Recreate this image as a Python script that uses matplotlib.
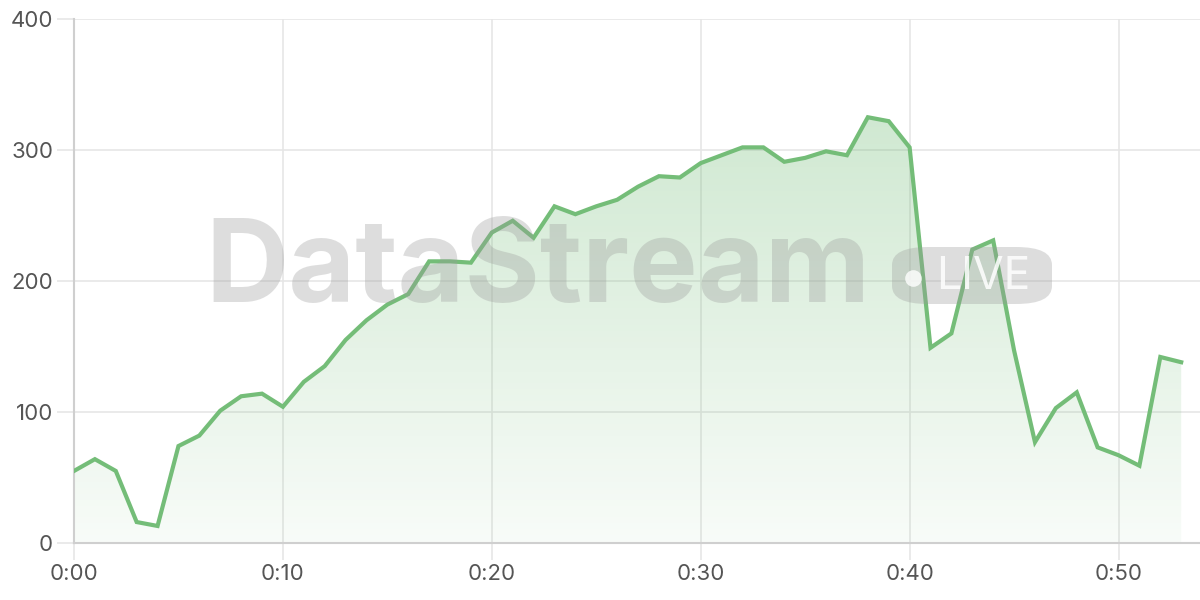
import numpy as np
import matplotlib
matplotlib.use('Agg')
import matplotlib.pyplot as plt
from matplotlib.patches import FancyBboxPatch
from matplotlib.lines import Line2D

plt.rcParams['font.family'] = ['Inter', 'DejaVu Sans']

# minutes since start, and the value at each minute
minutes = list(range(54))
values = [55, 64, 55, 16, 13, 74, 82, 101, 112, 114,
          104, 123, 135, 155, 170, 182, 190, 215, 215, 214,
          237, 246, 233, 257, 251, 257, 262, 272, 280, 279,
          290, 296, 302, 302, 291, 294, 299, 296, 325, 322,
          302, 149, 160, 224, 231, 147, 77, 103, 115, 73,
          67, 59, 142, 138]
tick_minutes = [0, 10, 20, 30, 40, 50]
tick_labels = ['0:00', '0:10', '0:20', '0:30', '0:40', '0:50']
y_ticks = [0, 100, 200, 300, 400]

line_color = '#74bd78'
grid_color = '#e6e6e6'

fig = plt.figure(figsize=(12, 6), dpi=100)
ax = fig.add_axes([74/1200, 57/600, 1 - 74/1200, 524/600])

ax.set_xlim(0, 53.9)
ax.set_ylim(0, 400)

# gradient fill under the line
poly = ax.fill_between(minutes, values, 0, color='none')
grad = np.linspace(0, 1, 256).reshape(-1, 1)
cmap = matplotlib.colors.LinearSegmentedColormap.from_list(
    'g', [(0.45, 0.74, 0.47, 0.05), (0.45, 0.74, 0.47, 0.34)])
img = ax.imshow(grad, extent=[0, 53, 0, 330], origin='lower', aspect='auto',
                cmap=cmap, zorder=1)
img.set_clip_path(poly.get_paths()[0], transform=ax.transData)

ax.plot(minutes, values, color=line_color, linewidth=3, zorder=3,
        solid_joinstyle='miter')

ax.set_xticks(tick_minutes)
ax.set_xticklabels(tick_labels)
ax.set_yticks(y_ticks)
ax.grid(True, color=grid_color, linewidth=1.2, zorder=0)
ax.set_axisbelow(True)
for s in ['top', 'right']:
    ax.spines[s].set_visible(False)
for s in ['left', 'bottom']:
    ax.spines[s].set_color('#cfcfcf')
    ax.spines[s].set_linewidth(1.5)
ax.tick_params(axis='both', colors=grid_color, labelcolor='#555555',
               labelsize=16, length=12, width=1.2, pad=3)

# watermark
fig.text(205/1200, 1 - 272/600, 'DataStream', fontsize=83, fontweight='bold',
         color='#9a9a9a', alpha=0.33, va='center', ha='left', zorder=2)
badge = FancyBboxPatch((892/1200, 1 - 304/600), 160/1200, 57/600,
                       boxstyle='round,pad=0,rounding_size=0.03',
                       transform=fig.transFigure, facecolor='#9a9a9a',
                       alpha=0.33, edgecolor='none', zorder=2)
fig.patches.append(badge)
fig.add_artist(Line2D([913/1200], [1 - 278/600], marker='o', markersize=12,
                      markeredgewidth=0, color='white', alpha=0.8,
                      transform=fig.transFigure, zorder=3))
fig.text(936/1200, 1 - 277/600, 'LIVE', fontsize=32,
         color='white', alpha=0.85, va='center', ha='left', zorder=3)

plt.savefig('out.png', dpi=100)
